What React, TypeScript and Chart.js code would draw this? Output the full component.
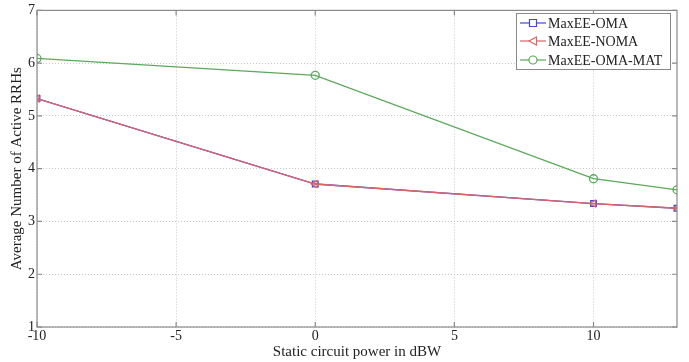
import React, { useEffect, useRef } from "react";
import { Chart, registerables } from "chart.js";

Chart.register(...registerables);

const xValues = [-10, 0, 10, 13];
const omaValues = [5.33, 3.71, 3.34, 3.25];
const nomaValues = [5.33, 3.71, 3.34, 3.25];
const matValues = [6.09, 5.77, 3.81, 3.6];
const xTicks = [-10, -5, 0, 5, 10];
const yTicks = [1, 2, 3, 4, 5, 6, 7];
const seriesLabels = ["MaxEE-OMA", "MaxEE-NOMA", "MaxEE-OMA-MAT"];

const BLUE = "rgb(70,70,220)";
const RED = "rgb(222,100,100)";
const GREEN = "rgb(90,170,90)";
const FONT = "'Liberation Serif', 'Times New Roman', serif";

const framePlugin = {
  id: "frame",
  afterDraw(chart: any) {
    const { ctx, chartArea: a } = chart;
    ctx.save();
    ctx.strokeStyle = "#8a8a8a";
    ctx.lineWidth = 1.2;
    ctx.strokeRect(a.left, a.top, a.right - a.left, a.bottom - a.top);
    const xs = chart.scales.x;
    const ys = chart.scales.y;
    ctx.beginPath();
    xTicks.forEach((v) => {
      const px = xs.getPixelForValue(v);
      ctx.moveTo(px, a.bottom);
      ctx.lineTo(px, a.bottom - 5);
      ctx.moveTo(px, a.top);
      ctx.lineTo(px, a.top + 5);
    });
    yTicks.forEach((v) => {
      const py = ys.getPixelForValue(v);
      ctx.moveTo(a.left, py);
      ctx.lineTo(a.left + 5, py);
      ctx.moveTo(a.right, py);
      ctx.lineTo(a.right - 5, py);
    });
    ctx.stroke();

    // legend
    const bx = 516, by = 13, bw = 154, bh = 56;
    ctx.fillStyle = "#fff";
    ctx.fillRect(bx, by, bw, bh);
    ctx.strokeStyle = "#8a8a8a";
    ctx.lineWidth = 1;
    ctx.strokeRect(bx + 0.5, by + 0.5, bw, bh);
    const colors = [BLUE, RED, GREEN];
    const rows = [23, 41, 60];
    ctx.font = "14px " + FONT;
    ctx.textBaseline = "middle";
    ctx.textAlign = "left";
    rows.forEach((ry, i) => {
      ctx.strokeStyle = colors[i];
      ctx.lineWidth = 1.2;
      ctx.beginPath();
      ctx.moveTo(520, ry);
      ctx.lineTo(546, ry);
      ctx.stroke();
      const cx = 533;
      ctx.beginPath();
      if (i === 0) {
        ctx.rect(cx - 3.5, ry - 3.5, 7, 7);
      } else if (i === 1) {
        ctx.moveTo(cx - 4, ry);
        ctx.lineTo(cx + 3.5, ry - 4);
        ctx.lineTo(cx + 3.5, ry + 4);
        ctx.closePath();
      } else {
        ctx.arc(cx, ry, 4, 0, Math.PI * 2);
      }
      ctx.fillStyle = "#fff";
      ctx.fill();
      ctx.stroke();
      ctx.fillStyle = "#222";
      ctx.fillText(seriesLabels[i], 548, ry + 1);
    });
    ctx.restore();
  },
};

export default function App() {
  const ref = useRef<HTMLCanvasElement | null>(null);
  useEffect(() => {
    if (!ref.current) return;
    const mk = (label: string, vals: number[], color: string, style: any, rot: number, order: number) => ({
      label,
      data: xValues.map((x, i) => ({ x, y: vals[i] })),
      borderColor: color,
      backgroundColor: "rgba(255,255,255,0)",
      pointBorderColor: color,
      pointBackgroundColor: "rgba(255,255,255,0)",
      pointStyle: style,
      pointRotation: rot,
      pointRadius: 4,
      pointBorderWidth: 1.3,
      borderWidth: 1.3,
      tension: 0,
      order,
    });
    const chart = new Chart(ref.current, {
      type: "line",
      data: {
        datasets: [
          mk(seriesLabels[0], omaValues, BLUE, "rect", 0, 2),
          mk(seriesLabels[1], nomaValues, RED, "triangle", -90, 1),
          mk(seriesLabels[2], matValues, GREEN, "circle", 0, 0),
        ] as any,
      },
      options: {
        animation: false,
        responsive: false,
        layout: { padding: { left: 0, right: 12, top: 9, bottom: 0 } },
        plugins: { legend: { display: false }, tooltip: { enabled: false } },
        scales: {
          x: {
            type: "linear",
            min: -10,
            max: 13,
            afterBuildTicks: (s: any) => {
              s.ticks = xTicks.map((v) => ({ value: v }));
            },
            afterFit: (s: any) => {
              s.height = 35;
            },
            grid: {
              color: "#c8c8c8",
              lineWidth: 1,
              drawTicks: false,
            },
            border: { display: false, dash: [1, 2] },
            ticks: {
              padding: 1,
              color: "#222",
              font: { family: FONT, size: 14 },
              maxRotation: 0,
              autoSkip: false,
            },
            title: {
              display: true,
              text: "Static circuit power in dBW",
              color: "#222",
              font: { family: FONT, size: 15 },
              padding: { top: 0, bottom: 1 },
            },
          },
          y: {
            type: "linear",
            min: 1,
            max: 7,
            afterBuildTicks: (s: any) => {
              s.ticks = yTicks.map((v) => ({ value: v }));
            },
            afterFit: (s: any) => {
              s.width = 37;
            },
            grid: {
              color: "#c8c8c8",
              lineWidth: 1,
              drawTicks: false,
            },
            border: { display: false, dash: [1, 2] },
            ticks: {
              padding: 2,
              color: "#222",
              font: { family: FONT, size: 14 },
              autoSkip: false,
            },
            title: {
              display: true,
              text: "Average Number of Active RRHs",
              color: "#222",
              font: { family: FONT, size: 15 },
              padding: { top: 8, bottom: 0 },
            },
          },
        },
      },
      plugins: [framePlugin],
    });
    return () => chart.destroy();
  }, []);
  return (
    <div style={{ position: "absolute", left: 0, top: 0, width: 689, height: 362, background: "#fff" }}>
      <canvas ref={ref} width={689} height={362} style={{ width: 689, height: 362 }} />
    </div>
  );
}
